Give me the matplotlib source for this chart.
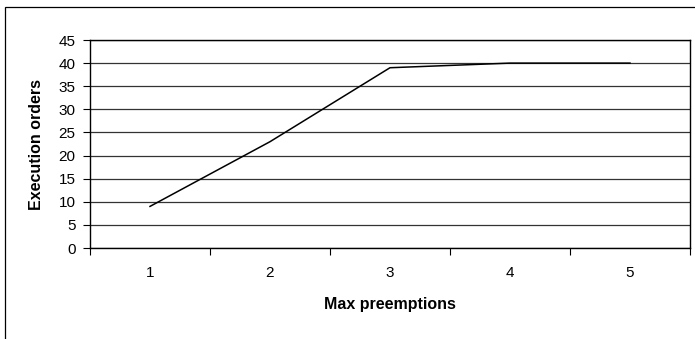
import matplotlib
matplotlib.use("Agg")
import matplotlib.pyplot as plt
from matplotlib.patches import Rectangle

plt.rcParams['font.family'] = ['Liberation Sans', 'DejaVu Sans']

categories = [1, 2, 3, 4, 5]
execution_orders = [9, 23, 39, 40, 40]
y_ticks = [0, 5, 10, 15, 20, 25, 30, 35, 40, 45]

W, H = 695, 339
fig = plt.figure(figsize=(W / 100, H / 100), dpi=100)

# outer chart border
fig.patches.append(Rectangle((5 / W, -0.1), 1.2, 1.1 - 7 / H, transform=fig.transFigure,
                             fill=False, edgecolor='black', linewidth=0.9, clip_on=False))

ax = fig.add_axes([90 / W, 1 - 248 / H, 600 / W, 208 / H])
x = list(range(len(categories)))
ax.plot(x, execution_orders, color='black', linewidth=1.1)

ax.set_xlim(-0.5, len(categories) - 0.5)
ax.set_ylim(0, 45)
ax.set_yticks(y_ticks)
ax.set_yticklabels([str(v) for v in y_ticks], fontsize=11)
ax.set_xticks(x)
ax.set_xticklabels([str(c) for c in categories], fontsize=11)
ax.set_xticks([i - 0.5 for i in range(len(categories) + 1)], minor=True)
ax.tick_params(axis='x', which='major', length=0, pad=13)
ax.tick_params(axis='x', which='minor', length=5, width=0.8, direction='out')
ax.tick_params(axis='y', which='major', length=5, width=0.8, direction='out', pad=5.5)

ax.grid(axis='y', color='#333333', linewidth=0.9)
ax.set_axisbelow(True)
for s in ax.spines.values():
    s.set_linewidth(1.0)
    s.set_color('black')

ax.set_ylabel('Execution orders', fontsize=11.5, fontweight='bold', va='center')
ax.yaxis.set_label_coords((36.5 - 90) / 600, 0.5)
ax.set_xlabel('Max preemptions', fontsize=11.5, fontweight='bold', va='center')
ax.xaxis.set_label_coords(0.5, -(305 - 248) / 208)

fig.savefig('out.png', dpi=100)
